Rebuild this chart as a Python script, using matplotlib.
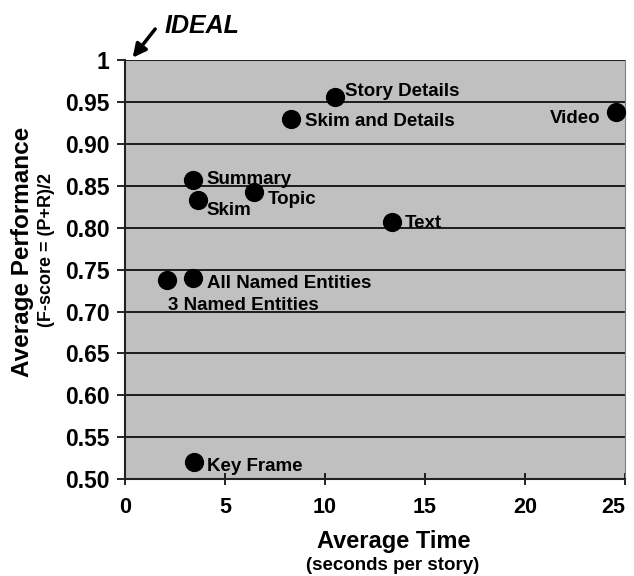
import numpy as np
import matplotlib.pyplot as plt

plt.rcParams['font.family'] = ['Liberation Sans', 'DejaVu Sans']
plt.rcParams['font.weight'] = 'bold'

# summary type, average time (s per story), average performance (F-score)
names = ["Story Details", "Skim and Details", "Video", "Summary", "Skim",
         "Topic", "Text", "All Named Entities", "3 Named Entities", "Key Frame"]
avg_time = [10.5, 8.3, 24.55, 3.4, 3.65, 6.45, 13.35, 3.4, 2.1, 3.43]
avg_perf = [0.956, 0.929, 0.938, 0.857, 0.833, 0.842, 0.807, 0.740, 0.737, 0.521]

y_ticks = [0.50, 0.55, 0.60, 0.65, 0.70, 0.75, 0.80, 0.85, 0.90, 0.95, 1.0]
y_ticklabels = ["0.50", "0.55", "0.60", "0.65", "0.70", "0.75", "0.80",
                "0.85", "0.90", "0.95", "1"]
x_ticks = [0, 5, 10, 15, 20, 25]

# label offsets (points, to the text baseline) and alignment
label_style = {
    "Story Details": ((7, 0.5), 'left'),
    "Skim and Details": ((10, -4.8), 'left'),
    "Video": ((-11.5, -8), 'right'),
    "Summary": ((10, -3.2), 'left'),
    "Skim": ((6.5, -10.8), 'left'),
    "Topic": ((10, -8), 'left'),
    "Text": ((9.4, -4.5), 'left'),
    "All Named Entities": ((10, -7.2), 'left'),
    "3 Named Entities": ((0.7, -21), 'left'),
    "Key Frame": ((10, -6.5), 'left'),
}

fig = plt.figure(figsize=(6.34, 5.76), dpi=100)
ax = fig.add_axes([0.197, 0.168, 0.789, 0.728])
ax.set_facecolor('#C0C0C0')

ax.set_xlim(0, 25)
ax.set_ylim(0.5, 1.0)
ax.set_yticks(y_ticks)
ax.set_yticklabels(y_ticklabels)
ax.set_xticks(x_ticks)
ax.tick_params(axis='y', direction='out', length=6, width=1.2,
               labelsize=16.5, pad=5)
ax.tick_params(axis='x', direction='inout', length=8, width=1.2,
               labelsize=15.5, pad=9)
for lab in ax.get_xticklabels() + ax.get_yticklabels():
    lab.set_fontweight('bold')
# keep the last x label inside the figure
ax.get_xticklabels()[-1].set_horizontalalignment('right')

ax.grid(axis='y', color='black', linewidth=1.2)
ax.set_axisbelow(True)
for side in ['left', 'bottom']:
    ax.spines[side].set_linewidth(1.5)
    ax.spines[side].set_color('#222222')
ax.spines['top'].set_visible(False)
ax.spines['right'].set_color('#808080')

ax.scatter(avg_time, avg_perf, s=165, color='black', zorder=3, clip_on=False)

for name, xv, yv in zip(names, avg_time, avg_perf):
    off, ha = label_style[name]
    ax.annotate(name, (xv, yv), xytext=off, textcoords='offset points',
                ha=ha, va='baseline', fontsize=13.5, fontweight='bold')

# IDEAL arrow pointing at (0, 1)
ax.annotate("", xy=(0.3, 1.0), xytext=(1.6, 1.0395), annotation_clip=False,
            arrowprops=dict(arrowstyle='-|>,head_length=0.8,head_width=0.4',
                            color='black', lw=2.5))
fig.text(0.26, 0.943, "IDEAL", fontsize=18, fontweight='bold',
         fontstyle='italic', ha='left', va='baseline')

fig.text(0.035, 0.563, "Average Performance", rotation=90, fontsize=17.5,
         fontweight='bold', ha='center', va='center')
fig.text(0.074, 0.566, "(F-score = (P+R)/2", rotation=90, fontsize=13,
         fontweight='bold', ha='center', va='center')
fig.text(0.621, 0.049, "Average Time", fontsize=17, fontweight='bold',
         ha='center', va='baseline')
fig.text(0.619, 0.010, "(seconds per story)", fontsize=13.5, fontweight='bold',
         ha='center', va='baseline')

fig.savefig("out.png", dpi=100)
